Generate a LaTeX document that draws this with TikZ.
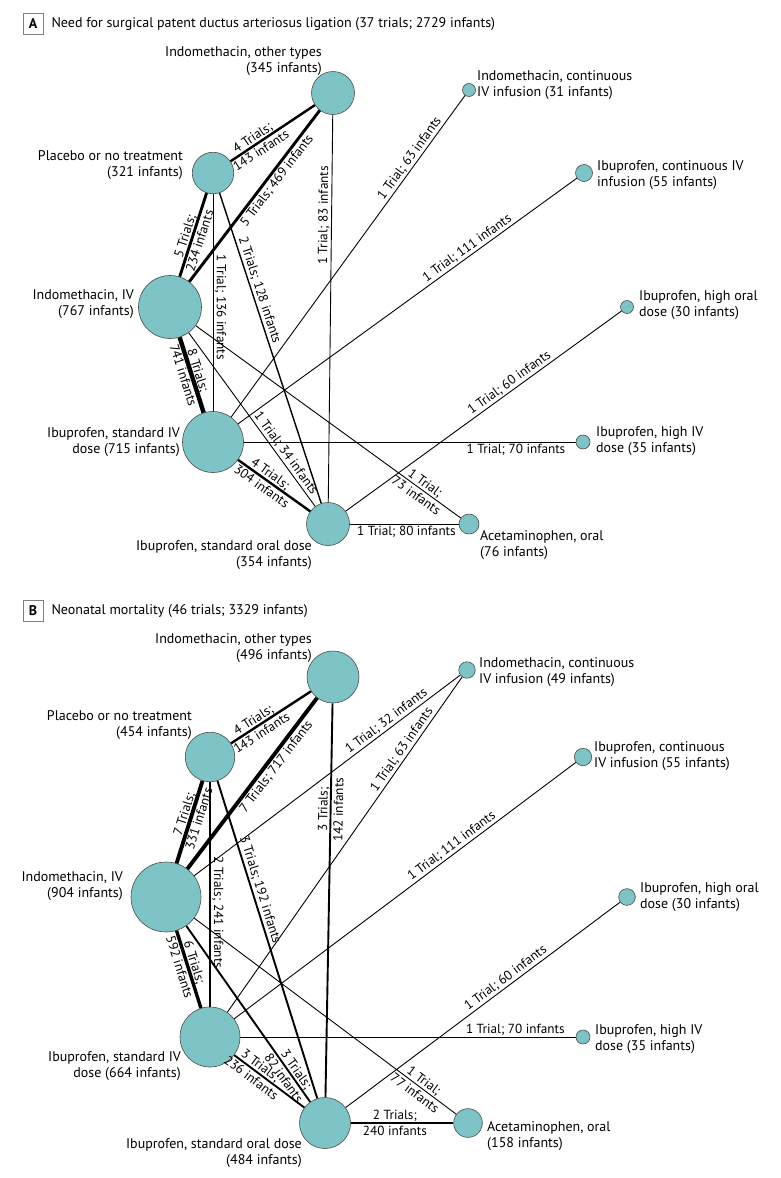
\documentclass[tikz,border=0pt]{standalone}
\usepackage{fontspec}
\setmainfont{PT Sans}
\usetikzlibrary{positioning}
\definecolor{tealfill}{RGB}{126,196,198}
\newcommand\lblsize{\fontsize{14}{16}\selectfont}
\newcommand\elsize{\fontsize{13.2}{15.5}\selectfont}

\begin{document}
\begin{tikzpicture}[x=1pt, y=-1pt,
    tx/.style={circle, draw=black!70, line width=0.6pt, fill=tealfill, inner sep=0pt, minimum size=#1},
    lbl/.style={font=\lblsize, inner sep=0pt},
    lbll/.style={lbl, anchor=west, align=left},
    lblr/.style={lbl, anchor=east, align=right},
    tr/.style={line width=0.4pt+0.5pt*#1},
    el/.style={font=\elsize, sloped, above, inner sep=1.5pt},
    elb/.style={font=\elsize, sloped, below, inner sep=1.5pt},
    el2/.style={font=\elsize, sloped, align=center, inner sep=0pt},
    tag/.style={draw=black!50, line width=0.6pt, font=\lblsize\bfseries, minimum width=20pt, minimum height=21pt, inner sep=0pt}
]
\useasboundingbox (0,0) rectangle (780,1178);

% panel A
\node[tag] (tagA) at (33,24) {A};
\node[lbl, anchor=west, right=8pt of tagA] (ttlA) {Need for surgical patent ductus arteriosus ligation (37 trials; 2729 infants)};

\node[tx=43] (aio) at (333,93) {};
\node[tx=41.5] (aplc) at (213,173) {};
\node[tx=63] (aiv) at (170,307) {};
\node[tx=61] (aisv) at (213,442) {};
\node[tx=43] (aiso) at (328,524) {};
\node[tx=13] (aicv) at (469,90) {};
\node[tx=17] (aicb) at (584,173) {};
\node[tx=13] (aiho) at (627,307) {};
\node[tx=14] (aihv) at (583,442) {};
\node[tx=20] (aac) at (469,524) {};

\node[lblr] (aio-l) at (322,61) {Indomethacin, other types\\(345 infants)};
\node[lblr] (aplc-l) at (183,165.5) {Placebo or no treatment\\(321 infants)};
\node[lblr] (aiv-l) at (134,304) {Indomethacin, IV\\(767 infants)};
\node[lblr] (aisv-l) at (180,442) {Ibuprofen, standard IV\\dose (715 infants)};
\node[lblr] (aiso-l) at (312,555) {Ibuprofen, standard oral dose\\(354 infants)};
\node[lbll] (aicv-l) at (477,85) {Indomethacin, continuous\\IV infusion (31 infants)};
\node[lbll] (aicb-l) at (597,175) {Ibuprofen, continuous IV\\infusion (55 infants)};
\node[lbll] (aiho-l) at (639,305) {Ibuprofen, high oral\\dose (30 infants)};
\node[lbll] (aihv-l) at (596,441) {Ibuprofen, high IV\\dose (35 infants)};
\node[lbll] (aac-l) at (480,545) {Acetaminophen, oral\\(76 infants)};

\draw[tr=4] (aplc) -- node[el2, pos=0.31] {4 Trials;\\143 infants} (aio);
\draw[tr=5] (aiv) -- node[elb, pos=0.62] {5 Trials; 469 infants} (aio);
\draw[tr=5] (aplc) -- node[el2, pos=0.54] {5 Trials;\\234 infants} (aiv);
\draw[tr=8] (aiv) -- node[el2, pos=0.47] {8 Trials;\\741 infants} (aisv);
\draw[tr=4] (aisv) -- node[el2, pos=0.39] {4 Trials;\\304 infants} (aiso);
\draw[tr=1] (aplc) -- node[el, pos=0.52] {1 Trial; 136 infants} (aisv);
\draw[tr=2] (aplc) -- node[el, pos=0.32] {2 Trials; 128 infants} (aiso);
\draw[tr=1] (aio) -- node[el, pos=0.26] {1 Trial; 83 infants} (aiso);
\draw[tr=1] (aisv) -- node[el, pos=0.79] {1 Trial; 63 infants} (aicv);
\draw[tr=1] (aisv) -- node[el, pos=0.69] {1 Trial; 111 infants} (aicb);
\draw[tr=1] (aiso) -- node[el, pos=0.61] {1 Trial; 60 infants} (aiho);
\draw[tr=1] (aisv) -- node[elb, pos=0.82] {1 Trial; 70 infants} (aihv);
\draw[tr=1] (aiso) -- node[elb, pos=0.52] {1 Trial; 80 infants} (aac);
\draw[tr=1] (aiv) -- node[el, pos=0.72] {1 Trial; 34 infants} (aiso);
\draw[tr=1] (aiv) -- node[el2, pos=0.85] {1 Trial;\\73 infants} (aac);

% panel B
\node[tag] (tagB) at (33,611) {B};
\node[lbl, anchor=west, right=8pt of tagB] (ttlB) {Neonatal mortality (46 trials; 3329 infants)};

\node[tx=52] (bio) at (333,677) {};
\node[tx=49.5] (bplc) at (210,757) {};
\node[tx=70] (biv) at (166,897) {};
\node[tx=60] (bisv) at (210,1037) {};
\node[tx=51] (biso) at (325,1123) {};
\node[tx=16.5] (bicv) at (467,670) {};
\node[tx=17.4] (bicb) at (583,757) {};
\node[tx=16.7] (biho) at (627,897) {};
\node[tx=14] (bihv) at (583,1037) {};
\node[tx=28.7] (bac) at (468,1123) {};

\node[lblr] (bio-l) at (312,648) {Indomethacin, other types\\(496 infants)};
\node[lblr] (bplc-l) at (192,725) {Placebo or no treatment\\(454 infants)};
\node[lblr] (biv-l) at (123,886.5) {Indomethacin, IV\\(904 infants)};
\node[lblr] (bisv-l) at (181,1066) {Ibuprofen, standard IV\\dose (664 infants)};
\node[lblr] (biso-l) at (302,1153.5) {Ibuprofen, standard oral dose\\(484 infants)};
\node[lbll] (bicv-l) at (479,672) {Indomethacin, continuous\\IV infusion (49 infants)};
\node[lbll] (bicb-l) at (594,756) {Ibuprofen, continuous\\IV infusion (55 infants)};
\node[lbll] (biho-l) at (640,897.5) {Ibuprofen, high oral\\dose (30 infants)};
\node[lbll] (bihv-l) at (595,1039) {Ibuprofen, high IV\\dose (35 infants)};
\node[lbll] (bac-l) at (487,1136.5) {Acetaminophen, oral\\(158 infants)};

\draw[tr=4] (bplc) -- node[el2, pos=0.33] {4 Trials;\\143 infants} (bio);
\draw[tr=7] (biv) -- node[elb, pos=0.63] {7 Trials; 717 infants} (bio);
\draw[tr=7] (bplc) -- node[el2, pos=0.43] {7 Trials;\\331 infants} (biv);
\draw[tr=6] (biv) -- node[el2, pos=0.44] {6 Trials;\\592 infants} (bisv);
\draw[tr=3] (bisv) -- node[el2, pos=0.31] {3 Trials;\\236 infants} (biso);
\draw[tr=2] (bplc) -- node[el, pos=0.58] {2 Trials; 241 infants} (bisv);
\draw[tr=3] (bplc) -- node[el, pos=0.35] {3 Trials; 192 infants} (biso);
\draw[tr=3] (bio) -- node[el2, pos=0.27] {3 Trials;\\142 infants} (biso);
\draw[tr=1] (biv) -- node[el, pos=0.74] {1 Trial; 32 infants} (bicv);
\draw[tr=1] (bisv) -- node[el, pos=0.77] {1 Trial; 63 infants} (bicv);
\draw[tr=1] (bisv) -- node[el, pos=0.65] {1 Trial; 111 infants} (bicb);
\draw[tr=1] (biso) -- node[el, pos=0.60] {1 Trial; 60 infants} (biho);
\draw[tr=1] (bisv) -- node[el, pos=0.82] {1 Trial; 70 infants} (bihv);
\draw[tr=2] (biso) -- node[el2, pos=0.43] {2 Trials;\\240 infants} (bac);
\draw[tr=3] (biv) -- node[el2, pos=0.84] {3 Trials;\\82 infants} (biso);
\draw[tr=1] (biv) -- node[el2, pos=0.86] {1 Trial;\\77 infants} (bac);
\end{tikzpicture}
\end{document}
